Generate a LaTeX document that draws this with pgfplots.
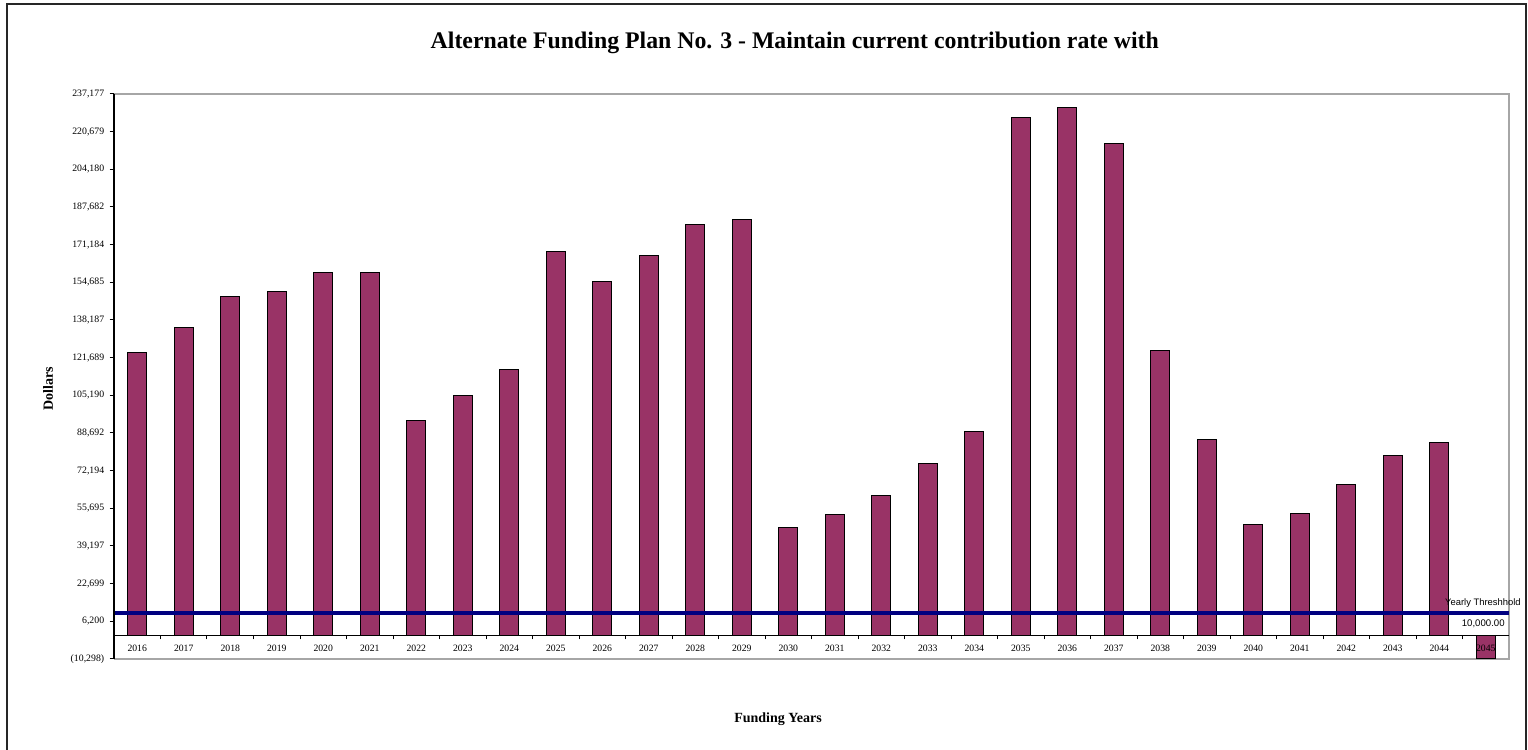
\documentclass[border=0pt]{standalone}
\usepackage{pgfplots}
\pgfplotsset{compat=1.18}
\usepackage{fontspec}
\setmainfont{Liberation Serif}
\newfontfamily\arialfont{Liberation Sans}
\definecolor{barplum}{HTML}{993366}
\definecolor{navyline}{HTML}{000080}

\pgfplotstableread{
x y
0 124042
1 134685
2 148394
3 150760
4 159082
5 158775
6 94258
7 105208
8 116420
9 168280
10 155140
11 166221
12 179930
13 182120
14 47392
15 53086
16 61408
17 75424
18 89133
19 226972
20 231352
21 215408
22 124611
23 85629
24 48399
25 53524
26 66226
27 78928
28 84622
29 -10298
}\fundtable

\begin{document}
\begin{tikzpicture}[x=0.5pt,y=0.5pt]
\useasboundingbox (0,0) rectangle (1528,750);
\draw[line width=1pt, black!85] (7,0) -- (7,746) -- (1526,746) -- (1526,0);
\begin{axis}[
  at={(57pt,45.5pt)}, anchor=south west,
  scale only axis, width=697.5pt, height=282.5pt,
  xmin=-0.5, xmax=29.5, ymin=-10298, ymax=237177,
  axis x line*=middle, axis y line*=left,
  axis line style={black, line width=0.6pt},
  axis on top,
  scaled y ticks=false,
  xtick={0,...,29},
  xticklabels={2016,2017,2018,2019,2020,2021,2022,2023,2024,2025,2026,2027,2028,2029,2030,2031,2032,2033,2034,2035,2036,2037,2038,2039,2040,2041,2042,2043,2044,2045},
  minor xtick={0.5,1.5,...,28.5},
  major x tick style={draw=none},
  minor x tick style={black, line width=0.5pt},
  xtick align=outside,
  minor tick length=2pt,
  major tick length=2.2pt,
  ytick align=outside,
  ytick={-10298,6200,22699,39197,55695,72194,88692,105190,121689,138187,154685,171184,187682,204180,220679,237177},
  yticklabels={(10{,}298),6{,}200,22{,}699,39{,}197,55{,}695,72{,}194,88{,}692,105{,}190,121{,}689,138{,}187,154{,}685,171{,}184,187{,}682,204{,}180,220{,}679,237{,}177},
  y tick style={black, line width=0.5pt},
  xticklabel style={font=\fontsize{4.85}{5}\selectfont, inner sep=1pt, yshift=-1.5pt},
  yticklabel style={font=\fontsize{4.9}{5}\selectfont, inner sep=1pt, xshift=-1.5pt},
  xlabel={Funding Years},
  ylabel={Dollars},
  xlabel style={font=\bfseries\fontsize{7}{8}\selectfont, at={(axis description cs:0.476,-0.106)}, anchor=center},
  ylabel style={font=\bfseries\fontsize{7}{8}\selectfont, at={(axis description cs:-0.0473,0.478)}, anchor=center, rotate=0},
  title={Alternate Funding Plan No. 3 - Maintain current contribution rate with},
  title style={font=\bfseries\fontsize{11.9}{13}\selectfont, at={(axis description cs:0.488,1.069)}, anchor=center},
  clip=false,
]
\draw[gray!70, line width=0.6pt] (rel axis cs:0,0) -- (rel axis cs:1,0) -- (rel axis cs:1,1) -- (rel axis cs:0,1);
\addplot[ybar, bar width=0.41, fill=barplum, draw=black, line width=0.5pt] table[x=x,y=y] {\fundtable};
\addplot[navyline, line width=2pt] coordinates {(-0.5,10000) (29.5,10000)};
\node[anchor=south east, font=\arialfont\fontsize{4.7}{5}\selectfont, inner sep=0.5pt, xshift=6.5pt, yshift=2pt] at (axis cs:29.5,10000) {Yearly Threshhold};
\node[anchor=north east, font=\arialfont\fontsize{4.8}{5}\selectfont, inner sep=0.5pt, xshift=-1.5pt, yshift=-3pt] at (axis cs:29.5,10000) {10,000.00};
\end{axis}
\end{tikzpicture}
\end{document}
